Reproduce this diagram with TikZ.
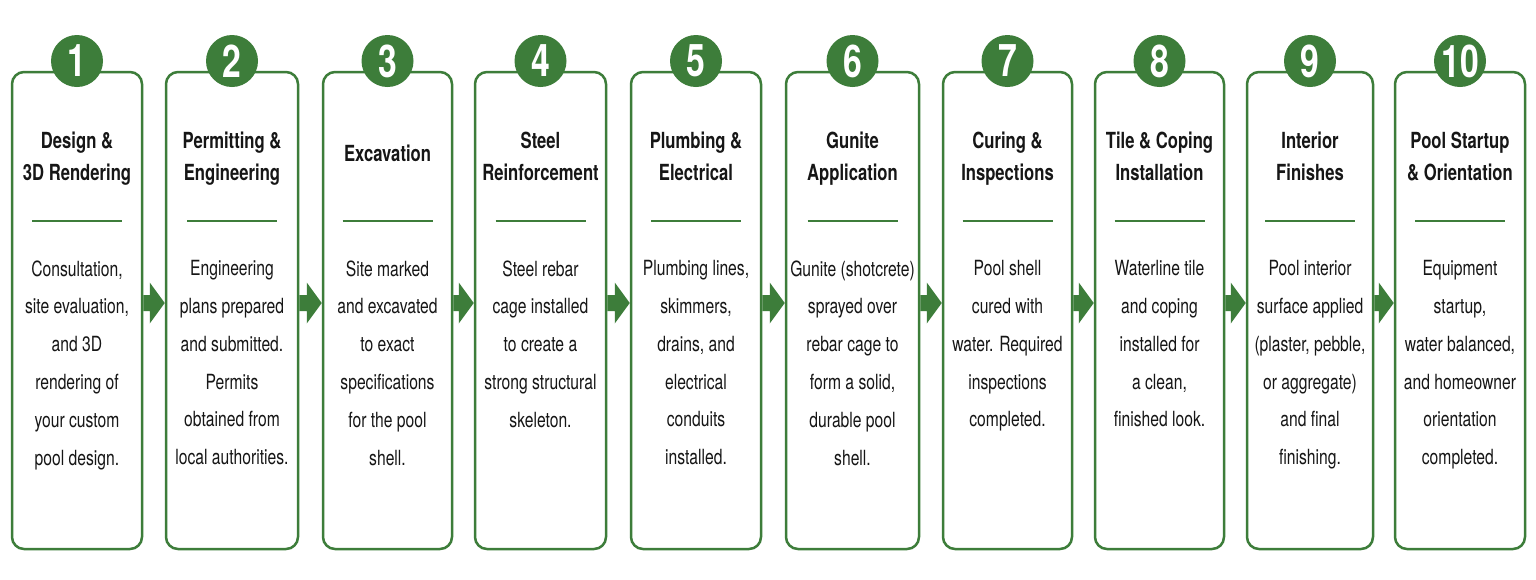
\documentclass[tikz,border=0pt]{standalone}
\usepackage{fontspec}
\setmainfont{TeX Gyre Heros}[FakeStretch=0.75]
\usetikzlibrary{calc}
\definecolor{pg}{RGB}{61,125,58}
\definecolor{ink}{RGB}{22,22,22}
\begin{document}
\begin{tikzpicture}[x=0.5pt,y=-0.5pt,
  card/.style={draw=pg, line width=1.25pt, rounded corners=6pt, fill=white, minimum height=238.5pt, inner sep=0pt},
  num/.style={circle, fill=pg, minimum size=26pt, inner sep=0pt, text=white, font=\bfseries\fontsize{22.5}{22.5}\selectfont},
  ttl/.style={anchor=north, align=center, inner sep=0pt, text=ink, font=\bfseries\fontsize{11.1}{16}\selectfont},
  body/.style={anchor=north, align=center, inner sep=0pt, text=ink, font=\fontsize{10.45}{18.9}\selectfont},
  divider/.style={draw=pg, line width=1pt},
  flow/.style={fill=pg, draw=none}]
\useasboundingbox (0,0) rectangle (1536,579);
\fill[white] (0,0) rectangle (1536,579);
\coordinate (yn) at (0,61);
\coordinate (yt) at (0,132);
\coordinate (yt1) at (0,145);
\coordinate (yd) at (0,221);
\coordinate (yb) at (0,260);
\coordinate (ya1) at (0,295);
\coordinate (ya2) at (0,311);
\coordinate (yh1) at (0,282.5);
\coordinate (yh2) at (0,323.5);
\coordinate (ym) at (0,303);
% cards
\foreach \i/\l/\r in {1/12/142, 2/166/298, 3/323/452, 4/475/606, 5/631/761, 6/786/919, 7/943/1072, 8/1095/1224, 9/1247/1373, 10/1395/1525}{
  \node[card, minimum width={(\r-\l)*0.5pt}] (c\i) at ({(\l+\r)/2},310.5) {};
  \draw[divider] ($(c\i.center |- yd)+(-45,0)$) -- ($(c\i.center |- yd)+(45,0)$);
}
% arrows
\foreach \i in {1,...,9}{
  \pgfmathtruncatemacro\j{\i+1}
  \fill[flow] (c\i.east |- ya1) -- ($(c\j.west |- ya1)+(-15,0)$) -- ($(c\j.west |- yh1)+(-15,0)$)
    -- (c\j.west |- ym) -- ($(c\j.west |- yh2)+(-15,0)$) -- ($(c\j.west |- ya2)+(-15,0)$)
    -- (c\i.east |- ya2) -- cycle;
}
% number badges
\foreach \i in {1,...,10}{
  \node[num] (n\i) at (c\i.center |- yn) {\i};
}
% titles
\node[ttl] (t1) at (c1.center |- yt) {Design \&\\3D Rendering};
\node[ttl] (t2) at (c2.center |- yt) {Permitting \&\\Engineering};
\node[ttl] (t3) at (c3.center |- yt1) {Excavation};
\node[ttl] (t4) at (c4.center |- yt) {Steel\\Reinforcement};
\node[ttl] (t5) at (c5.center |- yt) {Plumbing \&\\Electrical};
\node[ttl] (t6) at (c6.center |- yt) {Gunite\\Application};
\node[ttl] (t7) at (c7.center |- yt) {Curing \&\\Inspections};
\node[ttl] (t8) at (c8.center |- yt) {Tile \& Coping\\Installation};
\node[ttl] (t9) at (c9.center |- yt) {Interior\\Finishes};
\node[ttl] (t10) at (c10.center |- yt) {Pool Startup\\\& Orientation};
% bodies
\node[body] (b1) at (c1.center |- yb) {Consultation,\\site evaluation,\\and 3D\\rendering of\\your custom\\pool design.};
\node[body] (b2) at (c2.center |- yb) {Engineering\\plans prepared\\and submitted.\\Permits\\obtained from\\local authorities.};
\node[body] (b3) at (c3.center |- yb) {Site marked\\and excavated\\to exact\\specifications\\for the pool\\shell.};
\node[body] (b4) at (c4.center |- yb) {Steel rebar\\cage installed\\to create a\\strong structural\\skeleton.};
\node[body] (b5) at (c5.center |- yb) {Plumbing lines,\\skimmers,\\drains, and\\electrical\\conduits\\installed.};
\node[body] (b6) at (c6.center |- yb) {Gunite (shotcrete)\\sprayed over\\rebar cage to\\form a solid,\\durable pool\\shell.};
\node[body] (b7) at (c7.center |- yb) {Pool shell\\cured with\\water. Required\\inspections\\completed.};
\node[body] (b8) at (c8.center |- yb) {Waterline tile\\and coping\\installed for\\a clean,\\finished look.};
\node[body] (b9) at (c9.center |- yb) {Pool interior\\surface applied\\(plaster, pebble,\\or aggregate)\\and final\\finishing.};
\node[body] (b10) at (c10.center |- yb) {Equipment\\startup,\\water balanced,\\and homeowner\\orientation\\completed.};
\end{tikzpicture}
\end{document}
